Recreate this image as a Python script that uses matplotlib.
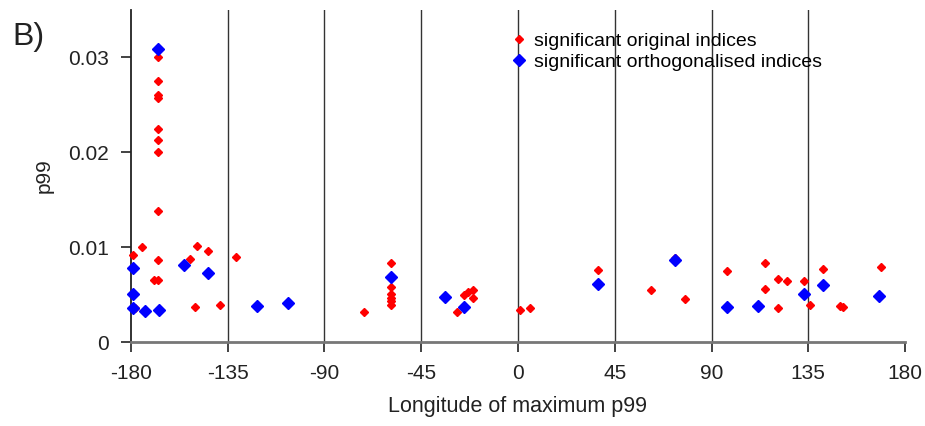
import matplotlib
matplotlib.use("Agg")
import matplotlib.pyplot as plt

# === Data ===
orig_lon = [-179.2, -178.0, -175.0, -169.5, -167.6, -167.6, -167.6, -167.6, -167.6,
            -167.6, -167.6, -167.6, -167.6, -167.6, -152.4, -150.2, -149.3, -144.0,
            -138.5, -131.2, -71.5, -59.1, -59.1, -59.1, -59.1, -59.1, -59.1, -28.4,
            -25.0, -23.1, -21.1, -21.1, 0.8, 5.7, 37.1, 61.9, 73.0, 77.8, 97.1,
            115.0, 115.0, 120.9, 125.0, 120.9, 132.9, 135.8, 142.0, 149.9, 151.0, 168.8]
orig_p99 = [0.0092, 0.0036, 0.0100, 0.0065, 0.0065, 0.0086, 0.0138, 0.0200, 0.0213,
            0.0224, 0.0257, 0.0260, 0.0275, 0.0300, 0.0087, 0.0037, 0.0101, 0.0096,
            0.0039, 0.0090, 0.0032, 0.0083, 0.0058, 0.0051, 0.0046, 0.0043, 0.0039,
            0.0032, 0.0050, 0.0053, 0.0055, 0.0046, 0.0034, 0.0036, 0.0076, 0.0055,
            0.0088, 0.0045, 0.0075, 0.0083, 0.0056, 0.0066, 0.0064, 0.0036, 0.0064,
            0.0039, 0.0077, 0.0038, 0.0037, 0.0079]

orth_lon = [-167.6, -179.2, -179.2, -179.2, -173.3, -167.1, -155.2, -144.3, -121.4,
            -107.1, -59.1, -34.0, -25.3, 37.1, 73.0, 97.1, 111.8, 132.9, 142.0, 168.1]
orth_p99 = [0.0308, 0.0078, 0.0051, 0.0036, 0.0033, 0.0034, 0.0081, 0.0073, 0.0038,
            0.0041, 0.0069, 0.0047, 0.0037, 0.0061, 0.0086, 0.0037, 0.0038, 0.0051,
            0.0060, 0.0048]

x_ticks = [-180, -135, -90, -45, 0, 45, 90, 135, 180]
y_ticks = [0, 0.01, 0.02, 0.03]
y_tick_labels = ["0", "0.01", "0.02", "0.03"]

# === Setup plot ===
plt.rcParams["font.family"] = ["Liberation Sans", "DejaVu Sans"]
fig = plt.figure(figsize=(9.25, 4.26), dpi=100)
ax = fig.add_axes([0.1416, 0.197, 0.8368, 0.7806])

# === Sector divider lines ===
for lon in x_ticks[1:-1]:
    ax.axvline(lon, color="#333333", linewidth=1.0, zorder=1)

# === Points ===
ax.plot(orig_lon, orig_p99, linestyle="none", marker="D", markersize=3.8,
        color="#ff0000", label="significant original indices", zorder=3, clip_on=False)
ax.plot(orth_lon, orth_p99, linestyle="none", marker="D", markersize=6.6,
        color="#0000ff", label="significant orthogonalised indices", zorder=4, clip_on=False)

# === Axes styling ===
ax.set_xlim(-180, 180)
ax.set_ylim(0, 0.035)
ax.set_xticks(x_ticks)
ax.set_xticklabels([str(t) for t in x_ticks])
ax.set_yticks(y_ticks)
ax.set_yticklabels(y_tick_labels)
ax.tick_params(axis="both", labelsize=15, colors="#222222", length=7, width=1.2)
ax.tick_params(axis="x", pad=9)
ax.tick_params(axis="y", pad=9)

for side in ("top", "right"):
    ax.spines[side].set_visible(False)
ax.spines["left"].set_color("#222222")
ax.spines["left"].set_linewidth(1.3)
ax.spines["bottom"].set_color("#777777")
ax.spines["bottom"].set_linewidth(2.0)

ax.set_xlabel("Longitude of maximum p99", fontsize=15.5, color="#222222", labelpad=9)
ax.set_ylabel("p99", fontsize=15, color="#222222", labelpad=10)

ax.legend(loc="upper left", bbox_to_anchor=(513 / 925, 1 - 32 / 426),
          bbox_transform=fig.transFigure, frameon=False, numpoints=1,
          fontsize=14, handlelength=0.6, handletextpad=0.5, labelspacing=0.2,
          borderpad=0, borderaxespad=0)

fig.text(12 / 925, 1 - 45 / 426, "B)", fontsize=23, color="#222222", ha="left", va="baseline")

# === Save image ===
fig.savefig("out.png", dpi=100)
plt.close(fig)
